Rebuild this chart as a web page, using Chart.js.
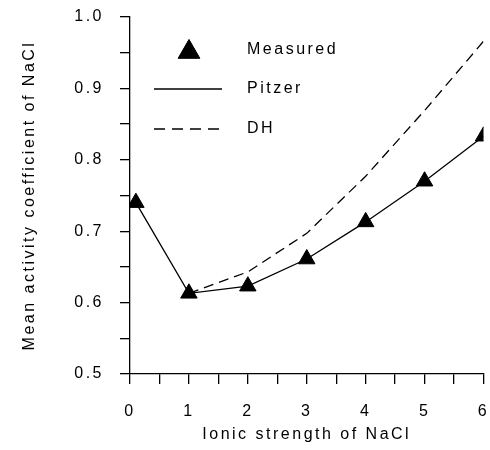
<!DOCTYPE html>
<html>
<head>
<meta charset="utf-8">
<script src="https://cdn.jsdelivr.net/npm/chart.js@4.4.1/dist/chart.umd.min.js"></script>
<style>
  html, body { margin: 0; padding: 0; background: #fff; overflow: hidden; }
  #frame { width: 490px; height: 450px; overflow: hidden; }
  /* a few px wider than the window: Chart.js reserves room for the last x label */
  #wrap { width: 494px; height: 450px; }
</style>
</head>
<body>
<div id="frame"><div id="wrap"><canvas id="activityChart"></canvas></div></div>
<script>
// data
const ionicStrength = [0.1, 1, 2, 3, 4, 5, 6];
const measured = [0.74, 0.613, 0.623, 0.661, 0.713, 0.770, 0.833];
const pitzer = [0.74, 0.613, 0.623, 0.661, 0.713, 0.770, 0.833];
const dhStrength = [1, 2, 3, 4, 5, 6];
const dh = [0.613, 0.643, 0.697, 0.777, 0.869, 0.966];

const xTicks = [0, 1, 2, 3, 4, 5, 6];
const yTicks = [0.5, 0.6, 0.7, 0.8, 0.9, 1.0];
const legendLabels = ["Measured", "Pitzer", "DH"];

const FONT = "'Liberation Sans', Arial, sans-serif";
const SPACING = "2.5px";

function toPoints(xs, ys) {
    return xs.map((x, i) => ({ x: x, y: ys[i] }));
}

// fixed box sizes so the plot area lands where the old figure had it
function fixBox(size, key) {
    return function (scale) {
        scale[key] = size;
        scale.paddingTop = 0;
        scale.paddingBottom = 0;
        scale.paddingLeft = 0;
        scale.paddingRight = 0;
    };
}

// the old plot uses widely spaced text
const spacingPlugin = {
    id: "spacing",
    beforeLayout(chart) { chart.ctx.letterSpacing = SPACING; },
    beforeDraw(chart) { chart.ctx.letterSpacing = SPACING; }
};

// legend sits inside the plot area, drawn by hand
const insideLegend = {
    id: "insideLegend",
    afterDraw(chart) {
        const ctx = chart.ctx;
        const area = chart.chartArea;
        const x0 = area.left + 24;
        const tx = area.left + 117;
        const rows = [area.top + 33, area.top + 72, area.top + 112];
        ctx.save();
        ctx.letterSpacing = SPACING;
        ctx.fillStyle = "#000";
        ctx.strokeStyle = "#000";

        Chart.helpers.drawPoint(ctx, { pointStyle: "triangle", radius: 12.5, rotation: 0, borderWidth: 1 }, x0 + 35, rows[0] + 2);
        ctx.fill();

        ctx.lineWidth = 1.3;
        ctx.beginPath();
        ctx.moveTo(x0, rows[1]);
        ctx.lineTo(x0 + 68, rows[1]);
        ctx.stroke();

        ctx.setLineDash([11, 7]);
        ctx.beginPath();
        ctx.moveTo(x0, rows[2]);
        ctx.lineTo(x0 + 68, rows[2]);
        ctx.stroke();
        ctx.setLineDash([]);

        ctx.font = "16px " + FONT;
        ctx.textBaseline = "middle";
        ctx.textAlign = "left";
        legendLabels.forEach((t, i) => ctx.fillText(t, tx, rows[i]));
        ctx.restore();
    }
};

const ctx = document.getElementById("activityChart").getContext("2d");

new Chart(ctx, {
    type: "scatter",
    data: {
        datasets: [
            {
                label: "Pitzer",
                data: toPoints(ionicStrength, pitzer),
                showLine: true,
                borderColor: "#000",
                borderWidth: 1.3,
                pointRadius: 0,
                tension: 0,
                order: 2
            },
            {
                label: "DH",
                data: toPoints(dhStrength, dh),
                showLine: true,
                borderColor: "#000",
                borderWidth: 1.3,
                borderDash: [10, 6],
                pointRadius: 0,
                tension: 0,
                order: 3
            },
            {
                label: "Measured",
                data: toPoints(ionicStrength, measured),
                showLine: false,
                pointStyle: "triangle",
                pointRadius: 9.5,
                pointBackgroundColor: "#000",
                pointBorderColor: "#000",
                pointBorderWidth: 1,
                order: 1
            }
        ]
    },
    options: {
        responsive: true,
        maintainAspectRatio: false,
        animation: false,
        events: [],
        layout: { padding: { left: 0, top: 17, right: 2, bottom: 5 } },
        plugins: {
            legend: { display: false },
            tooltip: { enabled: false }
        },
        scales: {
            x: {
                type: "linear",
                min: 0,
                max: 6,
                afterBuildTicks(scale) {
                    const ticks = [];
                    for (let i = 0; i < xTicks.length; i++) {
                        ticks.push({ value: xTicks[i] });
                        if (i < xTicks.length - 1) ticks.push({ value: (xTicks[i] + xTicks[i + 1]) / 2, minor: true });
                    }
                    scale.ticks = ticks;
                },
                afterFit: fixBox(71, "height"),
                ticks: {
                    color: "#000",
                    font: { family: FONT, size: 16 },
                    padding: 18,
                    maxRotation: 0,
                    autoSkip: false,
                    callback: (v) => (xTicks.includes(v) ? String(v) : "")
                },
                grid: { display: true, drawOnChartArea: false, drawTicks: true, tickLength: 10, color: "#000", lineWidth: 1.3 },
                border: { display: true, color: "#000", width: 1.3 },
                title: {
                    display: true,
                    text: "Ionic strength of NaCl",
                    color: "#000",
                    font: { family: FONT, size: 16 },
                    padding: { top: 0, bottom: 1 }
                }
            },
            y: {
                type: "linear",
                min: 0.5,
                max: 1.0,
                afterBuildTicks(scale) {
                    const ticks = [];
                    for (let i = 0; i < yTicks.length; i++) {
                        ticks.push({ value: yTicks[i] });
                        if (i < yTicks.length - 1) ticks.push({ value: +((yTicks[i] + yTicks[i + 1]) / 2).toFixed(2), minor: true });
                    }
                    scale.ticks = ticks;
                },
                afterFit: fixBox(130, "width"),
                ticks: {
                    color: "#000",
                    font: { family: FONT, size: 16 },
                    padding: 16,
                    autoSkip: false,
                    callback: (v) => (yTicks.some(t => Math.abs(t - v) < 1e-9) ? v.toFixed(1) : "")
                },
                grid: { display: true, drawOnChartArea: false, drawTicks: true, tickLength: 10, color: "#000", lineWidth: 1.3 },
                border: { display: true, color: "#000", width: 1.3 },
                title: {
                    display: true,
                    text: "Mean activity coefficient of NaCl",
                    color: "#000",
                    font: { family: FONT, size: 16 },
                    padding: { top: 20, bottom: 0 }
                }
            }
        }
    },
    plugins: [spacingPlugin, insideLegend]
});
</script>
</body>
</html>
